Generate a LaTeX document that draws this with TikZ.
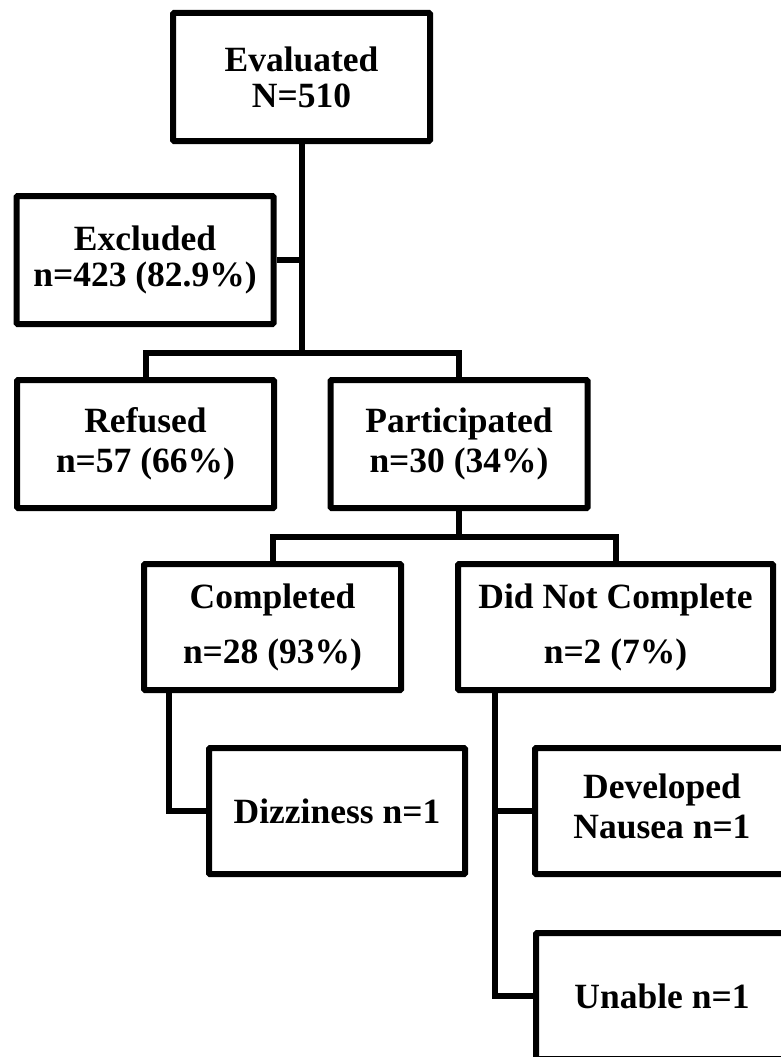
\documentclass[tikz,border=0pt]{standalone}
\usepackage{fontspec}
\setmainfont{Liberation Serif}
\tikzset{
    flow-box/.style = {draw=black, fill=white, line width=6pt, rectangle, rounded corners=1pt, minimum width=257pt, minimum height=128pt, inner sep=0pt, align=center, font=\fontsize{35.5}{36}\selectfont\bfseries},
    flow-line/.style = {draw=black, line width=6pt, line join=miter},
}

\begin{document}
\begin{tikzpicture}[x=1pt, y=-1pt]
\useasboundingbox (0,0) rectangle (781,1057);
\clip (0,0) rectangle (781,1057);
% boxes
\node [flow-box] (eval) at (301.5,77) {Evaluated\\N=510};
\node [flow-box] (excl) at (145,260) {Excluded\\n=423 (82.9\%)};
\node [flow-box] (refused) at (145.5,444) {Refused\\[4pt]n=57 (66\%)};
\node [flow-box] (particip) at (459,444) {Participated\\[4pt]n=30 (34\%)};
\node [flow-box, minimum height=126pt] (completed) at (272.5,627) {Completed\\[19pt]n=28 (93\%)};
\node [flow-box, minimum height=126pt, minimum width=315pt] (dnc) at (615.5,627) {Did Not Complete\\[19pt]n=2 (7\%)};
\node [flow-box, minimum height=126pt, minimum width=256pt] (dizz) at (337,811) {Dizziness n=1};
\node [flow-box, minimum height=126pt, minimum width=312pt] (developed) at (691,811) {\hspace*{-58pt}\begin{tabular}{@{}c@{}}Developed\\[4pt]Nausea n=1\end{tabular}};
\node [flow-box, minimum height=126pt, minimum width=312pt] (unable) at (692,996) {\hspace*{-60pt}Unable n=1};
% connectors
\coordinate (split1) at (301.5,353);
\coordinate (split2) at (459,537);
\coordinate (comp-leg) at ([xshift=28pt]completed.south west);
\coordinate (dnc-leg) at ([xshift=40pt]dnc.south west);
\draw [flow-line] (eval.south) -- (split1);
\draw [flow-line] (excl.east) -- (excl.east -| eval.south);
\draw [flow-line] (refused.north) |- (split1) -| (particip.north);
\draw [flow-line] (particip.south) -- (split2);
\draw [flow-line] (completed.north) |- (split2) -| (dnc.north);
\draw [flow-line] (comp-leg) |- (dizz.west);
\draw [flow-line] (dnc-leg) |- (unable.west);
\draw [flow-line] (developed.west) -- (developed.west -| dnc-leg);
\end{tikzpicture}
\end{document}
